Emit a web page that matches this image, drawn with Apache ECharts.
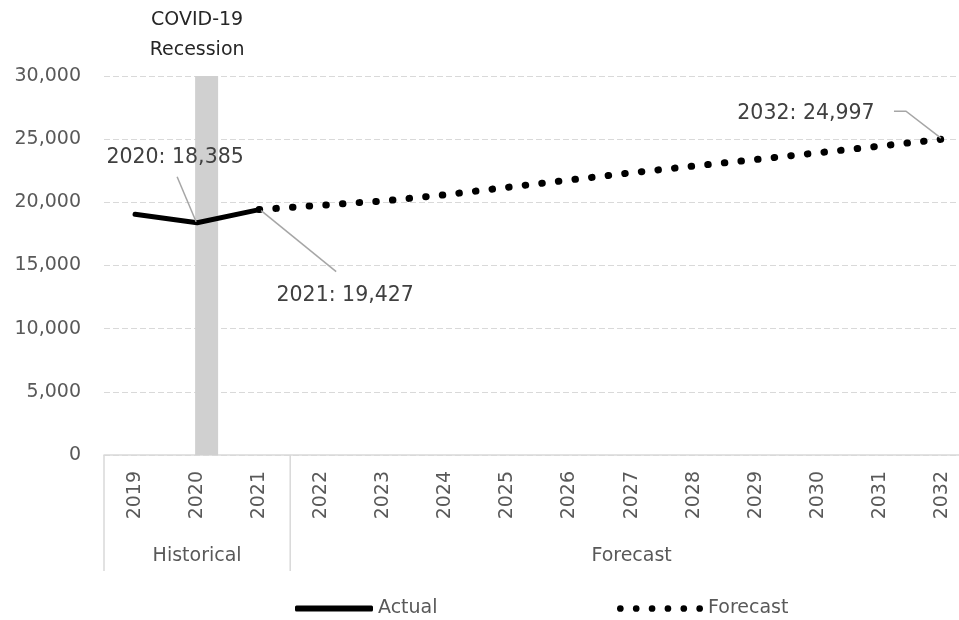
<!DOCTYPE html>
<html>
<head>
<meta charset="utf-8">
<script src="https://cdn.jsdelivr.net/npm/echarts@6/dist/echarts.min.js"></script>
<style>
  html, body { margin: 0; padding: 0; background: #fff; }
  #chart { width: 959px; height: 620px; }
</style>
</head>
<body>
<div id="chart"></div>
<script>
// years on the axis
var years = ['2019', '2020', '2021', '2022', '2023', '2024', '2025', '2026',
             '2027', '2028', '2029', '2030', '2031', '2032'];
// actual values (solid line)
var actual = [19050, 18385, 19427, null, null, null, null, null, null, null, null, null, null, null];
// forecast values (dotted line), joined at 2021
var forecast = [null, null, 19427, 19770, 20110, 20600, 21190, 21770, 22340, 22870, 23390, 23920, 24450, 24997];
// grey recession band: [year, top value]
var recession = [['2020', 30000]];
var yTicks = [0, 5000, 10000, 15000, 20000, 25000, 30000];
// axis groups under the years
var groups = [
    { name: 'Historical', from: '2019', to: '2021' },
    { name: 'Forecast', from: '2022', to: '2032' }
];
// callouts: [year, value, text]
var callouts = [
    ['2020', 18385, '2020: 18,385'],
    ['2021', 19427, '2021: 19,427'],
    ['2032', 24997, '2032: 24,997']
];

var FONT = 'DejaVu Sans';
var gray = '#595959';

// legend icon made of round dots
var dotIcon = 'path://';
for (var d = 0; d < 6; d++) {
    var cx = 3.5 + d * 16.6;
    dotIcon += 'M' + (cx - 3.5) + ',3.5a3.5,3.5 0 1,0 7,0a3.5,3.5 0 1,0 -7,0Z';
}

var option = {
    backgroundColor: '#fff',
    animation: false,
    textStyle: { fontFamily: FONT },
    grid: { left: 104, top: 76, width: 869, height: 379, outerBoundsMode: 'none', containLabel: false },
    legend: [
        {
            data: [{ name: 'Actual', icon: 'roundRect' }],
            left: 290, top: 594,
            itemWidth: 78, itemHeight: 6,
            textStyle: { fontFamily: FONT, fontSize: 19, color: gray }
        },
        {
            data: [{ name: 'Forecast', icon: dotIcon }],
            left: 612, top: 594,
            itemWidth: 86, itemHeight: 7,
            textStyle: { fontFamily: FONT, fontSize: 19, color: gray }
        }
    ],
    xAxis: {
        type: 'category',
        data: years,
        axisLine: { lineStyle: { color: '#d9d9d9', width: 1.5 } },
        axisTick: { show: false },
        axisLabel: { rotate: 90, margin: 16, fontSize: 19, color: gray, fontFamily: FONT },
        splitLine: { show: false }
    },
    yAxis: {
        type: 'value',
        min: yTicks[0],
        max: yTicks[yTicks.length - 1],
        interval: yTicks[1] - yTicks[0],
        axisLine: { show: false },
        axisTick: { show: false },
        axisLabel: {
            margin: 23, fontSize: 19, color: gray, fontFamily: FONT,
            formatter: function (v) { return v.toLocaleString('en-US'); }
        },
        splitLine: { lineStyle: { color: '#d9d9d9', width: 1, type: [6, 3] } }
    },
    series: [
        {
            name: 'Recession',
            type: 'custom',
            data: recession,
            z: 1,
            silent: true,
            renderItem: function (params, api) {
                var top = api.coord([api.value(0), api.value(1)]);
                var bottom = api.coord([api.value(0), 0]);
                return {
                    type: 'group',
                    children: [
                        {
                            type: 'rect',
                            shape: { x: top[0] - 2, y: top[1], width: 23, height: bottom[1] - top[1] },
                            style: { fill: '#d0d0d0' }
                        },
                        {
                            type: 'text',
                            style: {
                                x: top[0], y: top[1] - 11,
                                text: 'COVID-19\nRecession',
                                align: 'center', verticalAlign: 'bottom',
                                lineHeight: 30,
                                font: '19px "' + FONT + '"',
                                fill: '#262626'
                            }
                        }
                    ]
                };
            }
        },
        {
            name: 'Actual',
            type: 'line',
            data: actual,
            symbol: 'none',
            z: 3,
            lineStyle: { color: '#000', width: 5, cap: 'round' },
            itemStyle: { color: '#000' }
        },
        {
            name: 'Forecast',
            type: 'line',
            data: forecast,
            symbol: 'none',
            z: 2,
            lineStyle: { color: '#000', width: 7, type: [0.5, 16.2], cap: 'round' },
            itemStyle: { color: '#000' }
        }
    ]
};

var myChart = echarts.init(document.getElementById('chart'));
myChart.setOption(option);

// extra drawing: group separators, group names, callouts
var toPx = function (cat, val) {
    return myChart.convertToPixel({ gridIndex: 0 }, [cat, val]);
};
var axisY = toPx(years[0], 0)[1];
var step = toPx(years[1], 0)[0] - toPx(years[0], 0)[0];
var elements = [];
var lineCol = '#d9d9d9';

groups.forEach(function (g, i) {
    var xa = toPx(g.from, 0)[0];
    var xb = toPx(g.to, 0)[0];
    if (i === 0) {
        elements.push({ type: 'line', shape: { x1: xa - step / 2, y1: axisY, x2: xa - step / 2, y2: 571 }, style: { stroke: lineCol, lineWidth: 1.5 } });
    }
    elements.push({ type: 'line', shape: { x1: xb + step / 2, y1: axisY, x2: xb + step / 2, y2: 571 }, style: { stroke: lineCol, lineWidth: 1.5 } });
    elements.push({
        type: 'text',
        style: { x: (xa + xb) / 2, y: 556, text: g.name, align: 'center', verticalAlign: 'middle',
                 fill: gray, font: '19px "' + FONT + '"' }
    });
});

// callout offsets relative to the point: text centre and leader line
var calloutStyle = [
    { tx: -22, ty: -65, line: [[-20, -46], [-1, -1]] },
    { tx: 86, ty: 86, line: [[77, 62], [2, 1]] },
    { tx: -136, ty: -26, line: [[-48, -28], [-36, -28], [-1, -1]] }
];
callouts.forEach(function (c, i) {
    var p = toPx(c[0], c[1]);
    var s = calloutStyle[i];
    elements.push({
        type: 'polyline',
        shape: { points: s.line.map(function (d) { return [p[0] + d[0], p[1] + d[1]]; }) },
        style: { stroke: '#a6a6a6', lineWidth: 1.5, fill: null },
        z: 10
    });
    elements.push({
        type: 'text',
        style: { x: p[0] + s.tx, y: p[1] + s.ty, text: c[2], align: 'center', verticalAlign: 'middle',
                 fill: '#404040', font: '20.5px "' + FONT + '"' },
        z: 10
    });
});

myChart.setOption({ graphic: elements });
</script>
</body>
</html>
